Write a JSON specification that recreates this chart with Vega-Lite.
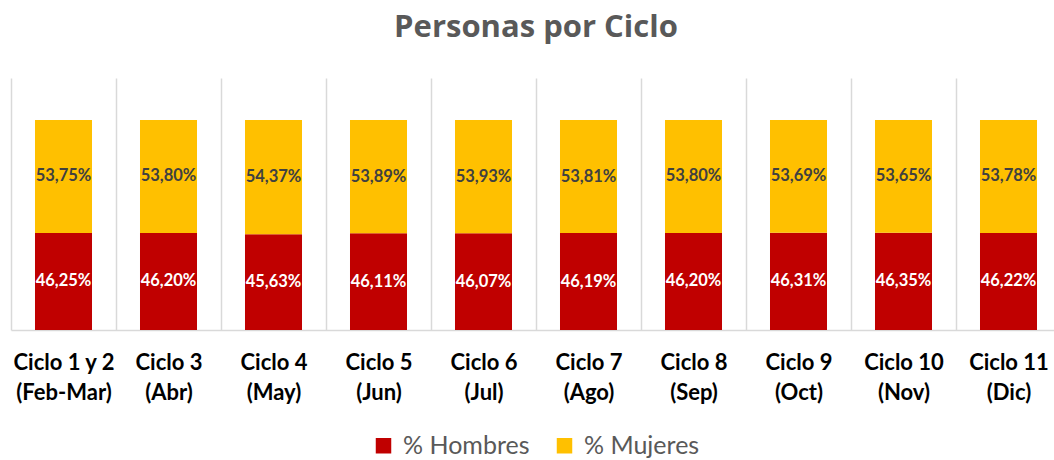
{
  "$schema": "https://vega.github.io/schema/vega-lite/v6.json",
  "width": 1050,
  "height": 252,
  "autosize": {"type": "none"},
  "padding": {"left": 11, "top": 78, "right": 0, "bottom": 130},
  "title": {"text": "Personas por Ciclo", "fontSize": 31, "font": "Open Sans", "fontWeight": "bold", "color": "#595959", "anchor": "middle", "offset": 34},
  "config": {
    "locale": {"number": {"decimal": ",", "thousands": ".", "grouping": [3], "currency": ["", "€"]}},
    "view": {"stroke": null}
  },
  "data": {"values": [
    {"ciclo": "Ciclo 1 y 2|(Feb-Mar)", "serie": "% Hombres", "valor": 0.4625},
    {"ciclo": "Ciclo 1 y 2|(Feb-Mar)", "serie": "% Mujeres", "valor": 0.5375},
    {"ciclo": "Ciclo 3|(Abr)", "serie": "% Hombres", "valor": 0.4620},
    {"ciclo": "Ciclo 3|(Abr)", "serie": "% Mujeres", "valor": 0.5380},
    {"ciclo": "Ciclo 4|(May)", "serie": "% Hombres", "valor": 0.4563},
    {"ciclo": "Ciclo 4|(May)", "serie": "% Mujeres", "valor": 0.5437},
    {"ciclo": "Ciclo 5|(Jun)", "serie": "% Hombres", "valor": 0.4611},
    {"ciclo": "Ciclo 5|(Jun)", "serie": "% Mujeres", "valor": 0.5389},
    {"ciclo": "Ciclo 6|(Jul)", "serie": "% Hombres", "valor": 0.4607},
    {"ciclo": "Ciclo 6|(Jul)", "serie": "% Mujeres", "valor": 0.5393},
    {"ciclo": "Ciclo 7|(Ago)", "serie": "% Hombres", "valor": 0.4619},
    {"ciclo": "Ciclo 7|(Ago)", "serie": "% Mujeres", "valor": 0.5381},
    {"ciclo": "Ciclo 8|(Sep)", "serie": "% Hombres", "valor": 0.4620},
    {"ciclo": "Ciclo 8|(Sep)", "serie": "% Mujeres", "valor": 0.5380},
    {"ciclo": "Ciclo 9|(Oct)", "serie": "% Hombres", "valor": 0.4631},
    {"ciclo": "Ciclo 9|(Oct)", "serie": "% Mujeres", "valor": 0.5369},
    {"ciclo": "Ciclo 10|(Nov)", "serie": "% Hombres", "valor": 0.4635},
    {"ciclo": "Ciclo 10|(Nov)", "serie": "% Mujeres", "valor": 0.5365},
    {"ciclo": "Ciclo 11|(Dic)", "serie": "% Hombres", "valor": 0.4622},
    {"ciclo": "Ciclo 11|(Dic)", "serie": "% Mujeres", "valor": 0.5378}
  ]},
  "transform": [
    {"stack": "valor", "groupby": ["ciclo"], "sort": [{"field": "serie", "order": "ascending"}], "as": ["v0", "v1"]},
    {"calculate": "(datum.v0 + datum.v1) / 2", "as": "vmid"}
  ],
  "encoding": {
    "x": {
      "field": "ciclo", "type": "nominal", "sort": null,
      "scale": {"paddingInner": 0, "paddingOuter": 0},
      "axis": {
        "title": null, "labelAngle": 0, "labelExpr": "split(datum.label, '|')",
        "labelFont": "Lato", "labelFontSize": 22, "labelFontWeight": "bold", "labelColor": "#000000",
        "labelLineHeight": 30, "labelPadding": 22, "ticks": false,
        "domain": true, "domainColor": "#d9d9d9", "domainWidth": 1.5,
        "grid": true, "gridColor": "#d9d9d9", "gridWidth": 1.5, "tickBand": "extent"
      }
    }
  },
  "layer": [
    {
      "mark": {"type": "bar", "width": {"band": 0.543}},
      "encoding": {
        "y": {"field": "v0", "type": "quantitative", "scale": {"domain": [0, 1.2]}, "axis": null},
        "y2": {"field": "v1"},
        "color": {
          "field": "serie", "type": "nominal",
          "scale": {"domain": ["% Hombres", "% Mujeres"], "range": ["#C00000", "#FFC000"]},
          "legend": {
            "orient": "none", "legendX": 360, "legendY": 355, "padding": 0,
            "direction": "horizontal", "title": null,
            "symbolType": "square", "symbolSize": 240, "symbolStrokeWidth": 0, "symbolOffset": 0,
            "labelFont": "Lato", "labelFontSize": 25, "labelColor": "#595959", "labelOffset": 7,
            "columnPadding": 22
          }
        }
      }
    },
    {
      "mark": {"type": "text", "font": "Lato", "fontSize": 16.5, "fontWeight": "bold", "baseline": "middle"},
      "encoding": {
        "y": {"field": "vmid", "type": "quantitative", "scale": {"domain": [0, 1.2]}},
        "text": {"field": "valor", "type": "quantitative", "format": ".2%"},
        "color": {
          "field": "serie", "type": "nominal",
          "scale": {"domain": ["% Hombres", "% Mujeres"], "range": ["#FFFFFF", "#404040"]},
          "legend": null
        }
      }
    }
  ],
  "resolve": {"scale": {"color": "independent"}}
}
